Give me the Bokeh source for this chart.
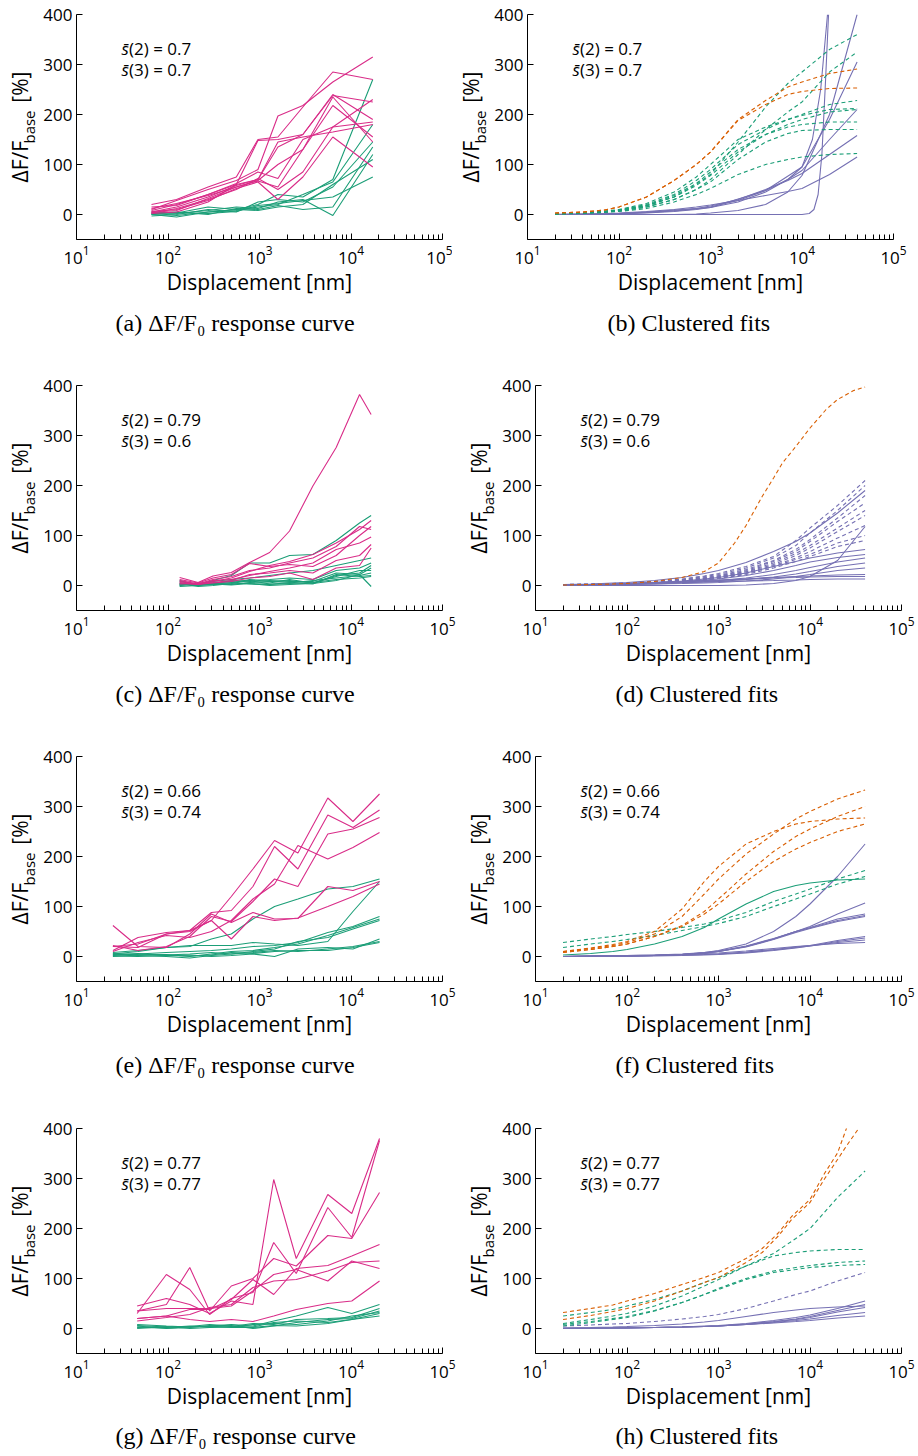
import math
from bokeh.plotting import figure
from bokeh.layouts import column, row
from bokeh.models import FixedTicker, LogTickFormatter, Label, LinearAxis, Title
from bokeh.embed import file_html
from bokeh.resources import INLINE

GREEN = "#1b9e77"
ORANGE = "#d95f02"
PURPLE = "#7570b3"
PINK = "#d92c88"

Y_TICKS = [0, 100, 200, 300, 400]
X_TICKS = [10, 100, 1000, 10000, 100000]

# ---------------- (a) raw response curves ----------------
A_X = [66, 124, 274, 558, 962, 1590, 2980, 6330, 17300]
A_PINK = [
    [20, 30, 55, 75, 150, 155, 215, 285, 270],
    [10, 28, 50, 68, 90, 197, 218, 265, 315],
    [8, 20, 40, 60, 148, 150, 160, 240, 190],
    [5, 15, 35, 58, 70, 135, 160, 238, 225],
    [12, 22, 38, 55, 68, 100, 130, 218, 155],
    [3, 12, 30, 50, 72, 50, 85, 175, 230],
    [6, 10, 28, 52, 65, 30, 75, 155, 95],
    [2, 5, 25, 60, 70, 145, 155, 165, 180],
    [15, 18, 40, 62, 85, 72, 150, 175, 185],
    [4, 8, 32, 55, 67, 55, 130, 235, 145],
]
A_GREEN = [
    [5, 3, 15, 10, 20, 40, 35, 70, 270],
    [0, -5, 5, 8, 15, 20, 40, 65, 180],
    [-3, 0, 10, 5, 25, 30, 25, 55, 145],
    [2, 5, 0, 12, 10, 18, 10, 15, 135],
    [0, 2, 8, 15, 12, 25, 30, -2, 120],
    [3, -2, 5, 10, 8, 15, 20, 60, 110],
    [1, 4, 2, 6, 18, 22, 28, 35, 75],
]

# ---------------- (c) raw response curves ----------------
C_X = [134, 213, 310, 492, 780, 1290, 2130, 3830, 6890, 12400, 16600]
C_PINK = [
    [16, 6, 19, 26, 46, 66, 109, 199, 276, 382, 342],
    [10, 3, 12, 18, 30, 35, 45, 55, 78, 118, 112],
    [5, 2, 8, 15, 28, 40, 48, 62, 85, 112, 130],
    [12, 5, 15, 22, 44, 38, 42, 38, 60, 100, 118],
    [8, 3, 10, 12, 20, 28, 35, 45, 72, 85, 97],
    [3, 4, 6, 10, 22, 25, 30, 25, 50, 60, 82],
    [6, 2, 5, 8, 15, 18, 25, 12, 35, 40, 75],
]
C_GREEN = [
    [10, 0, 10, 20, 45, 45, 60, 62, 90, 125, 140],
    [5, 2, 8, 12, 15, 20, 25, 30, 40, 50, 55],
    [2, 3, 5, 8, 10, 12, 15, 12, 30, 35, 45],
    [0, 5, 5, 5, 12, 8, 10, 5, 20, 25, 40],
    [8, 2, 3, 10, 8, 10, 8, 8, 25, 22, 35],
    [-2, 0, 2, 3, 5, 5, 12, 5, 18, 30, 30],
    [4, -2, 0, 4, 10, 3, 5, 10, 15, 20, 25],
    [3, 1, 4, 2, 6, 8, 6, 3, 22, 18, 20],
    [0, 4, 2, 6, 3, 2, 4, 6, 12, 15, 18],
    [2, 0, 3, 1, 4, 0, 2, 4, 10, 22, -2],
]

# ---------------- (e) raw response curves ----------------
E_X = [25, 47, 96, 173, 298, 492, 848, 1460, 2630, 5580, 10500, 20500]
E_PINK = [
    [20, 18, 45, 50, 72, 120, 175, 232, 207, 317, 270, 325],
    [12, 38, 48, 52, 88, 92, 140, 220, 175, 283, 258, 293],
    [22, 12, 20, 40, 80, 70, 110, 155, 140, 245, 255, 278],
    [10, 28, 42, 38, 50, 72, 115, 145, 222, 195, 218, 248],
    [62, 20, 18, 45, 85, 68, 88, 75, 76, 140, 132, 150],
    [20, 25, 45, 52, 72, 35, 80, 72, 77, 100, 120, 145],
]
E_GREEN = [
    [5, 10, 18, 20, 35, 45, 75, 100, 115, 135, 140, 155],
    [8, 12, 18, 22, 22, 22, 28, 25, 22, 30, 90, 150],
    [2, 5, 8, 10, 12, 15, 20, 22, 28, 48, 60, 80],
    [0, 3, 4, 0, 5, 10, 12, 18, 25, 42, 58, 75],
    [4, 2, 0, -3, 2, 5, 10, 15, 30, 38, 55, 72],
    [3, 6, 2, 3, 0, 2, 5, 0, 15, 18, 15, 35],
    [6, 4, 3, 5, 8, 5, 8, 12, 10, 15, 20, 30],
    [1, 0, 2, 1, 3, 8, 6, 10, 12, 12, 18, 28],
]

# ---------------- (g) raw response curves ----------------
G_X = [46, 96, 173, 285, 492, 848, 1430, 2520, 5580, 10200, 20500]
G_PINK = [
    [45, 60, 48, 30, 55, 48, 298, 140, 268, 230, 380],
    [30, 108, 78, 28, 60, 72, 172, 110, 242, 182, 376],
    [35, 48, 122, 35, 85, 100, 140, 125, 186, 180, 272],
    [20, 25, 38, 38, 58, 98, 68, 120, 126, 145, 168],
    [35, 40, 40, 40, 45, 75, 108, 118, 95, 135, 120],
    [15, 22, 28, 42, 48, 82, 95, 98, 115, 132, 135],
    [20, 25, 18, 14, 18, 14, 25, 38, 50, 55, 95],
]
G_GREEN = [
    [8, 5, 3, 5, 8, 5, 15, 25, 42, 30, 48],
    [5, 0, 2, 6, 4, 10, 8, 18, 20, 22, 40],
    [3, 2, 5, 3, 6, 0, 5, 12, 18, 20, 35],
    [0, 4, 0, 2, 3, 8, 10, 8, 15, 25, 32],
    [6, 3, 4, 8, 5, 3, 12, 15, 12, 18, 30],
    [2, 1, 3, 4, 2, 2, 6, 5, 10, 18, 25],
]

# ---------------- clustered fits (sampled) ----------------
FIT_X = [20, 40, 70, 100, 200, 400, 700, 1000, 2000, 4000, 7000, 10000, 20000, 40000]

B_ORANGE = [
    [3, 5, 9, 15, 35, 68, 100, 125, 190, 228, 255, 265, 282, 291],
    [3, 5, 9, 15, 35, 68, 100, 125, 188, 220, 240, 246, 252, 253],
]
B_GREEN = [
    [2, 4, 6, 9, 18, 35, 60, 80, 145, 215, 262, 285, 330, 360],
    [2, 3, 5, 7, 15, 30, 50, 70, 120, 170, 205, 225, 285, 325],
    [2, 4, 7, 10, 22, 45, 75, 100, 150, 175, 190, 198, 210, 212],
    [2, 4, 6, 9, 20, 40, 68, 90, 140, 170, 190, 200, 220, 228],
    [1, 3, 5, 8, 17, 35, 58, 78, 125, 160, 175, 180, 185, 185],
    [1, 3, 5, 7, 15, 30, 50, 65, 110, 145, 162, 168, 170, 170],
    [1, 2, 4, 6, 12, 25, 40, 52, 80, 100, 110, 115, 120, 122],
    [1, 3, 5, 8, 18, 38, 62, 85, 130, 160, 180, 190, 205, 210],
]
B_PURPLE = [
    [0, 0, 0, 0, 0, 0, 1, 3, 8, 20, 45, 78, 200, 400],
    [0, 0.5, 1, 1.5, 3, 6, 10, 14, 25, 45, 70, 95, 190, 305],
    [0, 0.5, 1, 2, 4, 7, 11, 15, 28, 48, 70, 88, 150, 210],
    [0, 0.5, 1, 2, 4, 8, 12, 17, 30, 50, 68, 82, 120, 158],
    [0, 1, 2, 3, 6, 10, 15, 19, 28, 38, 46, 52, 80, 115],
]
B_STEEP1_X = [20, 1000, 10000, 12000, 13500, 15000, 16500, 18000, 19500]
B_STEEP1_Y = [0, 0, 0, 2, 10, 40, 120, 260, 400]
B_STEEP2_X = [20, 100, 1000, 4000, 10000, 13000, 16000, 19000]
B_STEEP2_Y = [0, 1, 14, 48, 95, 150, 250, 400]

D_ORANGE_X = [20, 40, 70, 100, 200, 400, 700, 1000, 1500, 2000, 3000, 4000, 5000, 7000,
              10000, 15000, 20000, 30000, 40000]
D_ORANGE = [
    [1, 2, 3, 4, 8, 16, 28, 45, 85, 120, 178, 215, 245, 278, 315, 352, 372, 390, 397],
]
D_PURPLE_DASH = [
    [2, 3, 4, 5, 8, 13, 19, 24, 38, 58, 90, 115, 160, 210],
    [2, 3, 4, 5, 8, 12, 18, 22, 35, 55, 80, 105, 150, 200],
    [1, 2, 3, 4, 7, 11, 16, 20, 32, 50, 72, 92, 135, 180],
    [1, 2, 3, 4, 7, 11, 15, 19, 30, 48, 68, 88, 128, 165],
    [1, 2, 3, 4, 6, 10, 14, 18, 28, 45, 64, 80, 115, 150],
    [1, 2, 3, 4, 6, 10, 14, 17, 27, 42, 60, 75, 108, 140],
    [1, 2, 3, 4, 6, 9, 13, 16, 25, 40, 55, 68, 95, 120],
    [1, 2, 3, 4, 6, 9, 12, 15, 24, 38, 52, 62, 85, 100],
    [1, 2, 3, 3, 5, 8, 11, 14, 22, 35, 48, 58, 78, 90],
]
D_PURPLE = [
    [2, 3, 5, 6, 10, 16, 24, 30, 46, 68, 88, 105, 145, 190],
    [0, 0, 0, 0, 0, 0, 0, 0, 1, 4, 10, 18, 50, 118],
    [1, 2, 3, 4, 6, 9, 13, 16, 25, 38, 48, 55, 65, 72],
    [1, 2, 3, 4, 6, 8, 11, 13, 20, 30, 40, 47, 56, 62],
    [1, 1, 2, 3, 4, 6, 8, 10, 15, 22, 30, 36, 47, 55],
    [1, 1, 2, 2, 3, 5, 7, 8, 12, 17, 23, 28, 38, 45],
    [1, 1, 2, 2, 3, 4, 5, 6, 9, 13, 18, 22, 30, 35],
    [1, 1, 2, 3, 5, 7, 9, 10, 13, 16, 18, 19, 21, 22],
    [1, 2, 3, 4, 6, 8, 10, 11, 13, 15, 16, 17, 18, 18],
    [1, 2, 3, 4, 5, 6, 7, 8, 9, 10, 11, 12, 13, 13],
]

F_ORANGE = [
    [10, 17, 24, 30, 50, 95, 150, 180, 225, 250, 265, 270, 275, 277],
    [10, 16, 22, 28, 45, 80, 125, 155, 205, 245, 275, 290, 315, 333],
    [8, 14, 20, 25, 40, 62, 90, 115, 165, 210, 240, 255, 280, 300],
    [8, 14, 20, 25, 40, 60, 85, 105, 150, 190, 215, 228, 250, 265],
]
F_GREEN_DASH = [
    [28, 35, 40, 44, 50, 58, 65, 72, 88, 110, 125, 135, 155, 172],
    [18, 25, 30, 34, 42, 52, 60, 66, 80, 100, 115, 125, 145, 160],
]
F_GREEN = [
    [3, 6, 10, 14, 25, 40, 58, 75, 105, 130, 142, 147, 153, 155],
]
F_PURPLE = [
    [0, 0, 1, 1, 2, 4, 8, 12, 25, 50, 80, 105, 160, 225],
    [0, 1, 1, 1, 2, 4, 7, 10, 20, 35, 50, 60, 85, 107],
    [0, 1, 1, 1, 2, 4, 7, 10, 20, 35, 50, 58, 75, 85],
    [0, 1, 1, 2, 3, 5, 8, 11, 21, 36, 50, 57, 72, 82],
    [0, 0, 1, 1, 2, 4, 7, 10, 19, 34, 48, 56, 70, 80],
    [0, 0, 1, 1, 2, 3, 4, 5, 9, 14, 19, 22, 32, 40],
    [0, 0, 1, 1, 1, 2, 3, 4, 7, 12, 17, 21, 30, 37],
    [0, 1, 1, 1, 2, 3, 4, 5, 8, 13, 18, 21, 28, 33],
    [0, 1, 1, 2, 3, 4, 6, 7, 11, 16, 20, 22, 26, 28],
]

H_ORANGE_X = [20, 40, 70, 100, 200, 400, 700, 1000, 2000, 3000, 4500, 6300, 10000, 14500,
              20000, 25000, 34000]
H_ORANGE = [
    [32, 40, 47, 55, 70, 88, 102, 112, 140, 160, 191, 224, 258, 311, 351, 400, 470],
    [18, 26, 34, 40, 55, 75, 92, 102, 132, 152, 185, 218, 252, 300, 338, 365, 400],
]
H_GREEN_DASH = [
    [25, 32, 38, 45, 58, 75, 92, 102, 125, 150, 180, 200, 262, 315],
    [10, 18, 25, 30, 45, 65, 85, 98, 125, 145, 152, 155, 158, 158],
    [5, 12, 18, 22, 35, 52, 68, 80, 100, 115, 122, 126, 132, 135],
    [8, 14, 20, 24, 36, 52, 68, 78, 98, 112, 118, 122, 126, 128],
]
H_PURPLE_DASH = [
    [5, 7, 9, 10, 14, 19, 24, 28, 40, 55, 68, 75, 95, 112],
]
H_PURPLE = [
    [1, 2, 3, 4, 6, 9, 13, 16, 24, 32, 37, 40, 43, 45],
    [0, 0, 1, 1, 2, 3, 5, 6, 10, 16, 22, 27, 40, 55],
    [0, 0, 1, 1, 2, 3, 4, 5, 9, 14, 19, 24, 36, 48],
    [0, 1, 1, 1, 2, 3, 4, 5, 8, 13, 18, 22, 33, 42],
    [0, 0, 1, 1, 2, 3, 4, 5, 8, 12, 16, 19, 26, 32],
    [1, 1, 1, 2, 2, 3, 4, 5, 8, 11, 14, 16, 21, 25],
]

SCORES = {"a": ("0.7", "0.7"), "b": ("0.7", "0.7"),
          "c": ("0.79", "0.6"), "d": ("0.79", "0.6"),
          "e": ("0.66", "0.74"), "f": ("0.66", "0.74"),
          "g": ("0.77", "0.77"), "h": ("0.77", "0.77")}
CAPTIONS = {"a": "(a) ΔF/F₀ response curve", "b": "(b) Clustered fits",
            "c": "(c) ΔF/F₀ response curve", "d": "(d) Clustered fits",
            "e": "(e) ΔF/F₀ response curve", "f": "(f) Clustered fits",
            "g": "(g) ΔF/F₀ response curve", "h": "(h) Clustered fits"}

SANS = "Open Sans"
SERIF = "Liberation Serif"
FRAME_W = 366
FRAME_H = 225
PX_PER_DEC = FRAME_W / 4.0
PX_PER_UNIT = FRAME_H / 450.0
NBSP = "\u00a0"


def xdata(dx):
    return 10 ** (1 + dx / PX_PER_DEC)


def ydata(dy):
    # dy: pixels above the frame bottom
    return -50 + dy / PX_PER_UNIT


def make_fig(key, w, h, left, cap_offset, cap_standoff):
    p = figure(width=w, height=h, x_axis_type="log", x_range=(10, 1e5), y_range=(-50, 400),
               output_backend="svg", toolbar_location=None,
               min_border_left=left, min_border_right=w - left - FRAME_W,
               min_border_top=14, min_border_bottom=h - 14 - FRAME_H)
    p.outline_line_color = None
    p.grid.visible = False
    p.background_fill_color = "white"
    p.border_fill_color = "white"

    xa = p.xaxis[0]
    xa.ticker = FixedTicker(ticks=X_TICKS,
                            minor_ticks=[k * 10 ** d for d in range(1, 5) for k in range(2, 10)])
    xa.formatter = LogTickFormatter()
    xa.major_tick_in = 6
    xa.major_tick_out = 0
    xa.minor_tick_in = 5
    xa.minor_tick_out = 0
    xa.axis_line_color = "black"
    xa.major_tick_line_color = "black"
    xa.minor_tick_line_color = "black"
    xa.major_label_text_font = SANS
    xa.major_label_text_font_size = "17px"
    xa.major_label_text_color = "black"
    xa.major_label_standoff = 6
    xa.axis_label = "Displacement [nm]"
    xa.axis_label_text_font = SANS
    xa.axis_label_text_font_style = "normal"
    xa.axis_label_text_font_size = "21px"
    xa.axis_label_text_color = "black"
    xa.axis_label_standoff = 1

    ya = p.yaxis[0]
    ya.ticker = FixedTicker(ticks=Y_TICKS)
    ya.major_tick_in = 6
    ya.major_tick_out = 0
    ya.minor_tick_line_color = None
    ya.axis_line_color = "black"
    ya.major_tick_line_color = "black"
    ya.major_label_text_font = SANS
    ya.major_label_text_font_size = "17px"
    ya.major_label_text_color = "black"
    ya.major_label_standoff = 4
    # subscript part of the y label sits next to the tick labels
    ya.axis_label = "base"
    ya.axis_label_text_font = SANS
    ya.axis_label_text_font_style = "normal"
    ya.axis_label_text_font_size = "15px"
    ya.axis_label_text_color = "black"
    ya.axis_label_standoff = 1

    # main part of the y label on a bare outer axis
    outer = LinearAxis(ticker=FixedTicker(ticks=[]), axis_line_color=None,
                       major_tick_line_color=None, minor_tick_line_color=None,
                       major_tick_in=0, major_tick_out=0, minor_tick_in=0, minor_tick_out=0,
                       major_label_standoff=0,
                       axis_label="ΔF/F" + NBSP * 7 + "[%]",
                       axis_label_text_font=SANS, axis_label_text_font_style="normal",
                       axis_label_text_font_size="21px", axis_label_text_color="black",
                       axis_label_standoff=-17)
    p.add_layout(outer, "left")

    s2, s3 = SCORES[key]
    for dy, idx, val in ((FRAME_H - 34, "2", s2), (FRAME_H - 55, "3", s3)):
        p.add_layout(Label(x=xdata(45), y=ydata(dy), text="s̄", text_font=SANS,
                           text_font_style="italic", text_font_size="17px",
                           text_baseline="middle", text_color="black"))
        p.add_layout(Label(x=xdata(52.5), y=ydata(dy), text="(" + idx + ") = " + val,
                           text_font=SANS, text_font_size="17px",
                           text_baseline="middle", text_color="black"))
    cap = Title(text=CAPTIONS[key], align="left", offset=cap_offset, standoff=cap_standoff,
                text_font=SERIF, text_font_size="24px", text_font_style="normal",
                text_color="black")
    p.add_layout(cap, "below")
    return p


def draw(p, xs, curves, color, dash="solid", width=1.1):
    for ys in curves:
        p.line(xs, ys, line_color=color, line_width=width, line_dash=dash)


HEIGHTS = [371, 371, 372, 342]
STANDOFFS = [19, 19, 19, 16]
DASH = "4 3"
CAP_LEFT = 39
CAP_RIGHT = 80

pa = make_fig("a", 452, HEIGHTS[0], 76, CAP_LEFT, STANDOFFS[0])
draw(pa, A_X, A_GREEN, GREEN)
draw(pa, A_X, A_PINK, PINK)

pb = make_fig("b", 466, HEIGHTS[0], 75, CAP_RIGHT, STANDOFFS[0])
draw(pb, FIT_X, B_PURPLE, PURPLE)
pb.line(B_STEEP1_X, B_STEEP1_Y, line_color=PURPLE, line_width=1.1)
pb.line(B_STEEP2_X, B_STEEP2_Y, line_color=PURPLE, line_width=1.1)
draw(pb, FIT_X, B_GREEN, GREEN, DASH)
draw(pb, FIT_X, B_ORANGE, ORANGE, DASH)

pc = make_fig("c", 459, HEIGHTS[1], 76, CAP_LEFT, STANDOFFS[1])
draw(pc, C_X, C_GREEN, GREEN)
draw(pc, C_X, C_PINK, PINK)

pd = make_fig("d", 459, HEIGHTS[1], 76, CAP_RIGHT, STANDOFFS[1])
draw(pd, FIT_X, D_PURPLE, PURPLE)
draw(pd, FIT_X, D_PURPLE_DASH, PURPLE, DASH)
draw(pd, D_ORANGE_X, D_ORANGE, ORANGE, DASH)

pe = make_fig("e", 459, HEIGHTS[2], 76, CAP_LEFT, STANDOFFS[2])
draw(pe, E_X, E_GREEN, GREEN)
draw(pe, E_X, E_PINK, PINK)

pf = make_fig("f", 459, HEIGHTS[2], 76, CAP_RIGHT, STANDOFFS[2])
draw(pf, FIT_X, F_PURPLE, PURPLE)
draw(pf, FIT_X, F_GREEN, GREEN)
draw(pf, FIT_X, F_GREEN_DASH, GREEN, DASH)
draw(pf, FIT_X, F_ORANGE, ORANGE, DASH)

pg = make_fig("g", 459, HEIGHTS[3], 76, CAP_LEFT, STANDOFFS[3])
draw(pg, G_X, G_GREEN, GREEN)
draw(pg, G_X, G_PINK, PINK)

ph = make_fig("h", 459, HEIGHTS[3], 76, CAP_RIGHT, STANDOFFS[3])
draw(ph, FIT_X, H_PURPLE, PURPLE)
draw(ph, FIT_X, H_PURPLE_DASH, PURPLE, DASH)
draw(ph, FIT_X, H_GREEN_DASH, GREEN, DASH)
draw(ph, H_ORANGE_X, H_ORANGE, ORANGE, DASH)

layout = column(row(pa, pb), row(pc, pd), row(pe, pf), row(pg, ph))

with open("out.html", "w") as f:
    f.write(file_html(layout, INLINE, "Clustered response curves"))
